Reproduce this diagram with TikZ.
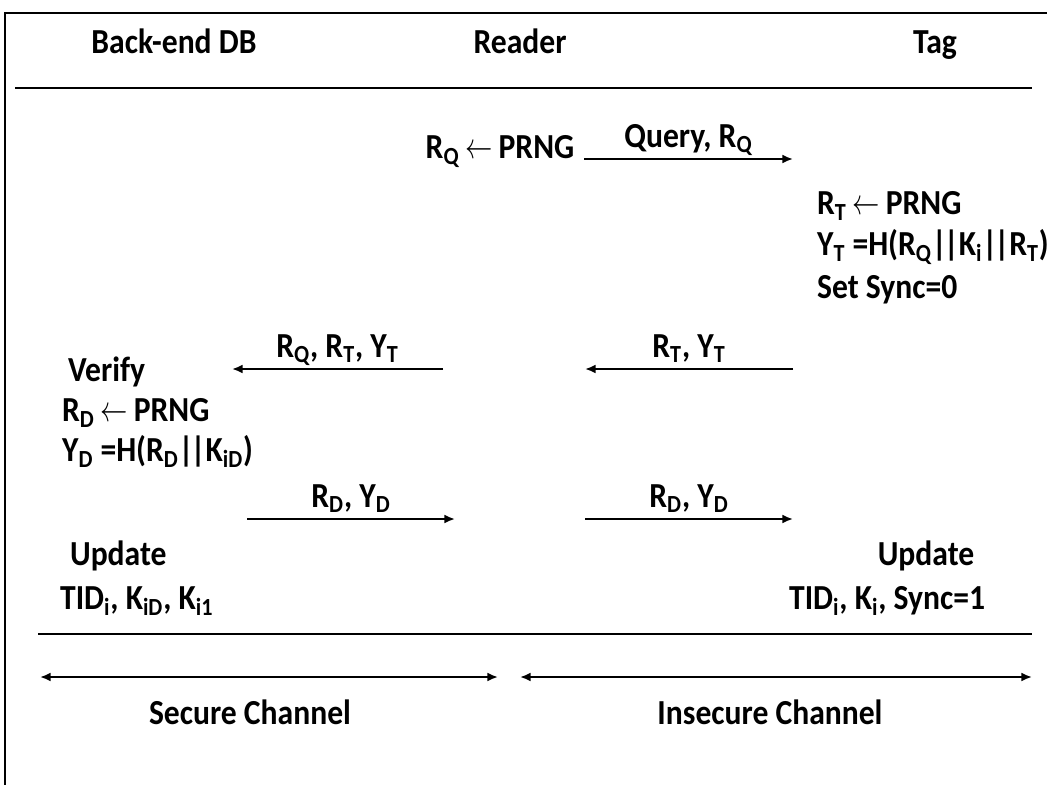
\documentclass[tikz,border=0pt]{standalone}
\usepackage{fontspec}
\setmainfont{Carlito}[FakeStretch=0.9]
\usepackage{tikz}
\usetikzlibrary{arrows.meta,positioning}

\newcommand{\sub}[1]{\textsubscript{#1}}
\newcommand{\getsfrom}{\,\scalebox{0.75}[1]{$\leftarrow$}\,}
\newcommand{\concat}{|\kern-1.8pt|}

\begin{document}
\begin{tikzpicture}[x=0.02cm,y=-0.02cm,
      txt/.style={font=\fontsize{20}{23}\selectfont\bfseries,inner sep=1pt,
                  text height=14pt,text depth=4pt},
      lft/.style={txt,anchor=west},
      msg/.style={txt,midway,above=1pt},
      arr/.style={-{Latex[length=6pt,width=5pt]},line width=1.1pt},
      both/.style={{Latex[length=6pt,width=5pt]}-{Latex[length=6pt,width=5pt]},line width=1.1pt},
      rule/.style={line width=1.1pt},
  ]
  \useasboundingbox (0,0) rectangle (1047,785);

  % Frame (top and left edge only)
  \draw[rule] (1047,13) -- (5,13) -- (5,785);

  % Parties
  \node[txt] (db) at (174,45) {Back-end DB};
  \node[txt] (rd) at (520,45) {Reader};
  \node[txt] (tg) at (935,45) {Tag};
  \coordinate (h1) at (15,88);
  \coordinate (h2) at (1032,88);
  \draw[rule] (h1) -- (h2);

  % Reader starts
  \node[txt] (rq) at (500,150) {R\sub{Q}\getsfrom PRNG};
  \coordinate (q1) at (584,159);
  \coordinate (q2) at (793,159);
  \draw[arr] (q1) -- node[msg] (qlab) {Query, R\sub{Q}} (q2);

  % Tag side
  \node[lft] (t1) at (815,206) {R\sub{T}\getsfrom PRNG};
  \node[lft] (t2) at (815,247) {Y\sub{T} =H(R\sub{Q}\concat K\sub{i}\concat R\sub{T})};
  \node[lft] (t3) at (815,290) {Set Sync=0};

  % Replies back to the DB
  \coordinate (r1) at (793,369);
  \coordinate (r2) at (585,369);
  \draw[arr] (r1) -- node[msg] {R\sub{T}, Y\sub{T}} (r2);
  \coordinate (d1) at (443,369);
  \coordinate (d2) at (232,369);
  \draw[arr] (d1) -- node[msg] {R\sub{Q}, R\sub{T}, Y\sub{T}} (d2);

  % DB side
  \node[lft] (v1) at (66,373) {Verify};
  \node[lft] (v2) at (60,413) {R\sub{D}\getsfrom PRNG};
  \node[lft] (v3) at (60,453) {Y\sub{D} =H(R\sub{D}\concat K\sub{iD})};

  % DB answer to the tag
  \coordinate (a1) at (247,519);
  \coordinate (a2) at (455,519);
  \draw[arr] (a1) -- node[msg] {R\sub{D}, Y\sub{D}} (a2);
  \coordinate (b1) at (585,519);
  \coordinate (b2) at (793,519);
  \draw[arr] (b1) -- node[msg] {R\sub{D}, Y\sub{D}} (b2);

  % Updates
  \node[lft] (u1) at (68,557) {Update};
  \node[lft] (u2) at (58,601) {TID\sub{i}, K\sub{iD}, K\sub{i1}};
  \node[txt] (w1) at (926,557) {Update};
  \node[lft] (w2) at (787,601) {TID\sub{i}, K\sub{i}, Sync=1};

  % Channels
  \coordinate (f1) at (38,634);
  \coordinate (f2) at (1032,634);
  \draw[rule] (f1) -- (f2);
  \coordinate (s1) at (40,677);
  \coordinate (s2) at (498,677);
  \coordinate (s3) at (520,677);
  \coordinate (s4) at (1032,677);
  \draw[both] (s1) -- (s2);
  \draw[both] (s3) -- (s4);
  \node[txt] (sc) at (250,716) {Secure Channel};
  \node[txt] (ic) at (770,716) {Insecure Channel};
\end{tikzpicture}
\end{document}
